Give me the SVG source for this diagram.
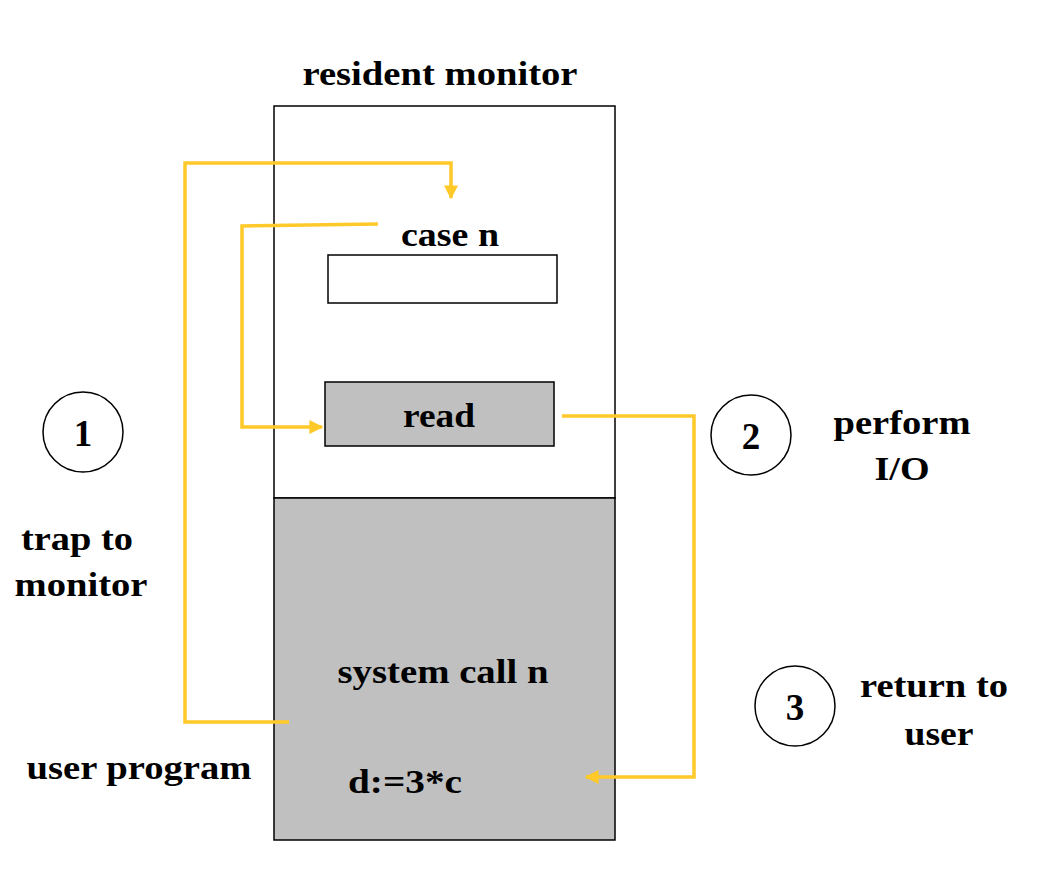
<svg xmlns="http://www.w3.org/2000/svg" width="1042" height="870" viewBox="0 0 1042 870">
<style>
text{font-family:"Liberation Serif","Times New Roman",serif;font-weight:bold;font-size:33px;fill:#000;text-anchor:middle}
.num{font-size:37px}
.box{stroke:#000;stroke-width:1.5}
.conn{fill:none;stroke:#FFC929;stroke-width:3.5}
.circ{fill:#fff;stroke:#000;stroke-width:1.5}
</style>
<defs>
<marker id="ah" viewBox="0 0 10 10" refX="9" refY="5" markerWidth="4" markerHeight="4" orient="auto" markerUnits="strokeWidth">
<path d="M0,0 L10,5 L0,10 z" fill="#FFC929"/>
</marker>
</defs>
<rect width="1042" height="870" fill="#fff"/>
<g id="resident-monitor">
<rect class="box" x="274" y="106" width="341" height="392" fill="#fff"/>
<text x="440" y="85" textLength="275" lengthAdjust="spacingAndGlyphs">resident monitor</text>
</g>
<g id="user-program">
<rect class="box" x="274" y="498" width="341" height="342" fill="#c0c0c0"/>
<text x="443" y="683" textLength="211" lengthAdjust="spacingAndGlyphs">system call n</text>
<text x="405" y="793" textLength="114" lengthAdjust="spacingAndGlyphs">d:=3*c</text>
<text x="139" y="779" textLength="225" lengthAdjust="spacingAndGlyphs">user program</text>
</g>
<g id="case-n">
<text x="450" y="246" textLength="98" lengthAdjust="spacingAndGlyphs">case n</text>
<rect class="box" x="328" y="255" width="229" height="48" fill="#fff"/>
</g>
<g id="read">
<rect class="box" x="325" y="382" width="229" height="64" fill="#c0c0c0"/>
<text x="439" y="427" textLength="72" lengthAdjust="spacingAndGlyphs">read</text>
</g>
<g id="step1">
<circle class="circ" cx="83" cy="432" r="40"/>
<text class="num" x="83" y="446">1</text>
<text x="77" y="550" textLength="112" lengthAdjust="spacingAndGlyphs">trap to</text>
<text x="81" y="596" textLength="133" lengthAdjust="spacingAndGlyphs">monitor</text>
</g>
<g id="step2">
<circle class="circ" cx="751" cy="435" r="40"/>
<text class="num" x="751" y="449">2</text>
<text x="902" y="434" textLength="137" lengthAdjust="spacingAndGlyphs">perform</text>
<text x="902" y="480" textLength="55" lengthAdjust="spacingAndGlyphs">I/O</text>
</g>
<g id="step3">
<circle class="circ" cx="795" cy="706" r="40"/>
<text class="num" x="795" y="720">3</text>
<text x="934" y="697" textLength="148" lengthAdjust="spacingAndGlyphs">return to</text>
<text x="939" y="745" textLength="69" lengthAdjust="spacingAndGlyphs">user</text>
</g>
<g id="connectors">
<path class="conn" d="M289,722 H185 V163 H451 V198" marker-end="url(#ah)"/>
<path class="conn" d="M378,224 L242,226 V427 H322" marker-end="url(#ah)"/>
<path class="conn" d="M562,416 H694 V777 H586" marker-end="url(#ah)"/>
</g>
</svg>
